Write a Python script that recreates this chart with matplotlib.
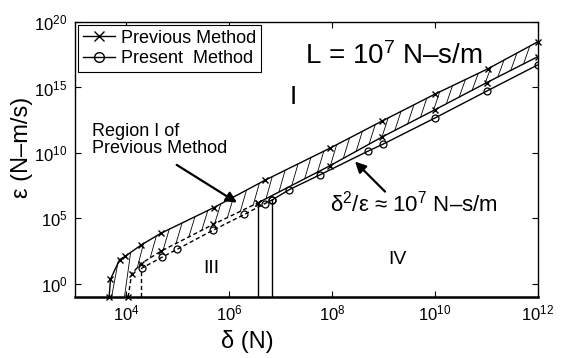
import numpy as np
import matplotlib
matplotlib.use('Agg')
import matplotlib.pyplot as plt
from matplotlib.lines import Line2D

plt.rcParams['font.family'] = 'Liberation Sans'
plt.rcParams['mathtext.fontset'] = 'custom'
plt.rcParams['mathtext.rm'] = 'Liberation Sans'
plt.rcParams['mathtext.it'] = 'Liberation Sans:italic'
plt.rcParams['mathtext.bf'] = 'Liberation Sans:bold'

# Previous method, upper edge of region I (solid)
prevUpperDelta = [4.7e3, 5.0e3, 7.5e3, 9.6e3, 1.93e4, 4.7e4, 5.1e5, 5.0e6, 9.1e7, 9.5e8, 9.8e9, 1.05e11, 9.8e11]
prevUpperEps = [1e-1, 2.3, 70, 126, 890, 7.2e3, 6.8e5, 8.3e7, 2.3e10, 2.8e12, 3.0e14, 2.6e16, 3.0e18]

# Previous method, lower edge (dashed below the jump, solid above)
prevLowerDashDelta = [1.1e4, 1.29e4, 1.95e4, 4.8e4, 4.95e5, 3.7e6]
prevLowerDashEps = [1e-1, 6.0, 35, 320, 3.5e4, 1.6e6]
prevLowerSolidDelta = [3.7e6, 9.1e7, 9.5e8, 1.0e10, 1.0e11, 9.8e11]
prevLowerSolidEps = [1.6e6, 1.05e9, 1.7e11, 2.0e13, 2.3e15, 2.2e17]

# Present method
presDashDelta = [2.0e4, 2.0e4, 4.9e4, 9.9e4, 4.95e5, 1.98e6, 5.0e6, 6.8e6]
presDashEps = [1e-1, 15.5, 105, 447, 1.29e4, 2.0e5, 1.38e6, 2.5e6]
presSolidDelta = [6.8e6, 1.48e7, 5.85e7, 5.07e8, 9.9e8, 1.0e10, 1.0e11, 9.8e11]
presSolidEps = [2.5e6, 1.58e7, 2.14e8, 1.41e10, 4.8e10, 4.7e12, 5.2e14, 5.2e16]

xTickExp = [4, 6, 8, 10, 12]
yTickExp = [0, 5, 10, 15, 20]
yBottom = 1e-1

fig = plt.figure(figsize=(5.62, 3.58), dpi=100)
ax = fig.add_axes([74.5/562, 1-297/358, (538-74.5)/562, (297-22)/358])
ax.set_xscale('log')
ax.set_yscale('log')
ax.set_xlim(1e3, 1e12)
ax.set_ylim(yBottom, 1e20)

lw = 1.0
xm = dict(marker='x', ms=4.5, mew=1.0)
om = dict(marker='o', ms=5, mew=0.9, mfc='none')

ax.plot(prevUpperDelta, prevUpperEps, 'k-', lw=lw, clip_on=False, **xm)
ax.plot(prevLowerDashDelta, prevLowerDashEps, 'k', lw=lw, dashes=(3, 2), clip_on=False, **xm)
ax.plot(prevLowerSolidDelta, prevLowerSolidEps, 'k-', lw=lw, **xm)
ax.plot(presDashDelta, presDashEps, 'k', lw=lw, dashes=(3, 2), markevery=list(range(1, len(presDashDelta))), **om)
ax.plot(presSolidDelta, presSolidEps, 'k-', lw=lw, **om)

# vertical jumps down to the axis
ax.plot([prevLowerSolidDelta[0]] * 2, [yBottom, prevLowerSolidEps[0]], 'k-', lw=lw)
ax.plot([presSolidDelta[0]] * 2, [yBottom, presSolidEps[0]], 'k-', lw=lw)

# hatching of region I between the two previous-method edges
lowLx = np.log10(prevLowerDashDelta[:-1] + prevLowerSolidDelta)
lowLy = np.log10(prevLowerDashEps[:-1] + prevLowerSolidEps)
upLx = np.log10(prevUpperDelta)
upLy = np.log10(prevUpperEps)
for lx0 in np.arange(3.72, 11.86, 0.25):
    ly0 = np.interp(lx0, lowLx, lowLy)
    lx1 = lx0 + 0.12
    ly1 = np.interp(lx1, upLx, upLy)
    ax.plot(10 ** np.array([lx0, lx1]), 10 ** np.array([ly0, ly1]), 'k-', lw=0.6)

ax.set_xticks([10.0 ** e for e in xTickExp])
ax.set_xticklabels([r'$\mathdefault{10^{%d}}$' % e for e in xTickExp])
ax.set_yticks([10.0 ** e for e in yTickExp])
ax.set_yticklabels([r'$\mathdefault{10^{%d}}$' % e for e in yTickExp])
ax.minorticks_off()
ax.tick_params(direction='in', top=True, right=True, length=4, width=0.8,
               labelsize=12, pad=5)
for s in ax.spines.values():
    s.set_linewidth(1.0)
ax.spines['bottom'].set_linewidth(1.8)

ax.set_xlabel('δ (N)', fontsize=17)
ax.xaxis.set_label_coords(0.372, -0.12)
ax.set_ylabel('ε (N–m/s)', fontsize=17)
ax.yaxis.set_label_coords(-0.09, 0.544)

handles = [Line2D([], [], color='k', lw=1, marker='x', ms=7, mew=1),
           Line2D([], [], color='k', lw=1, marker='o', ms=7, mfc='none')]
leg = ax.legend(handles, ['Previous Method', 'Present  Method'], loc='upper left',
                bbox_to_anchor=(0.0076, 0.989), borderaxespad=0, fontsize=13,
                fancybox=False, edgecolor='k', framealpha=1, handlelength=1.8,
                handletextpad=0.35, borderpad=0.25, labelspacing=0.2)
leg.get_frame().set_linewidth(0.8)

ax.text(10 ** 7.476, 10 ** 16.8, r'L = 10$^7$ N–s/m', fontsize=20, ha='left', va='baseline')
ax.text(10 ** 7.24, 10 ** 14.24, 'I', fontsize=19, ha='center', va='center')
ax.text(10 ** 5.65, 10 ** 1.21, 'III', fontsize=14, ha='center', va='center')
ax.text(10 ** 9.28, 10 ** 1.86, 'IV', fontsize=14, ha='center', va='center')
ax.text(10 ** 3.333, 10 ** 10.98, 'Region I of\nPrevious Method', fontsize=13,
        ha='left', va='center', linespacing=1.05)
ax.text(10 ** 7.961, 10 ** 5.55, r'δ$^2$/ε ≈ 10$^7$ N–s/m', fontsize=16, ha='left', va='baseline')

arrow = dict(arrowstyle='-|>', color='k', lw=1.6, mutation_scale=16, shrinkA=0, shrinkB=0)
ax.annotate('', xy=(10 ** 6.155, 10 ** 6.21), xytext=(10 ** 4.984, 10 ** 9.09), arrowprops=arrow)
ax.annotate('', xy=(10 ** 8.447, 10 ** 9.34), xytext=(10 ** 9.03, 10 ** 7.05), arrowprops=arrow)

fig.savefig('out.png', dpi=100)
